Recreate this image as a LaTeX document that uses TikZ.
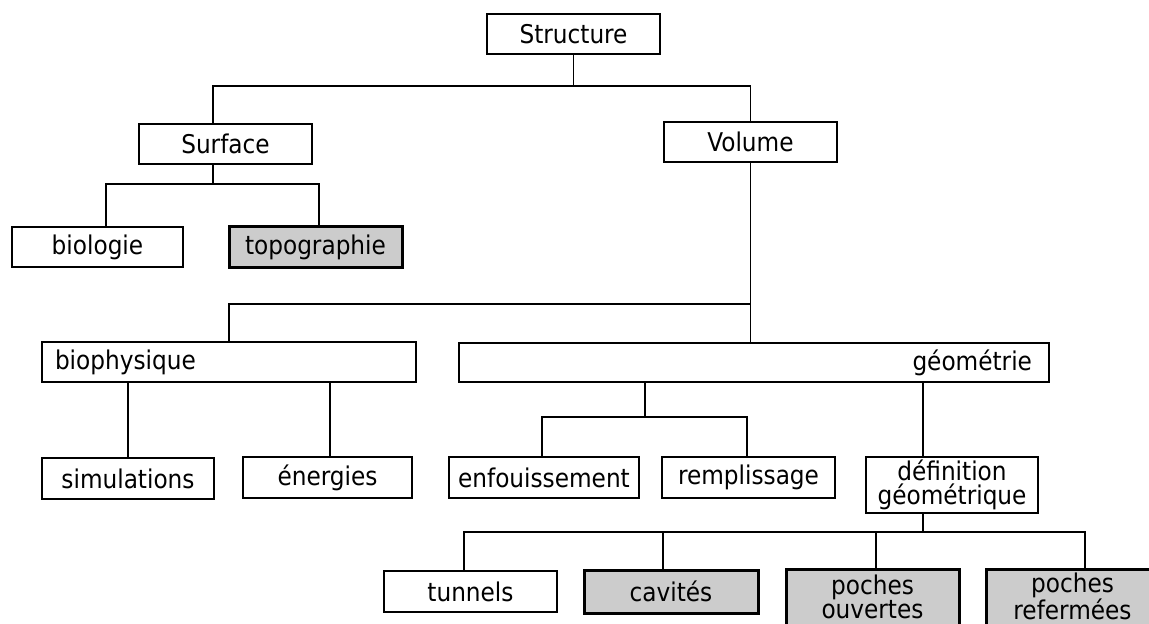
\documentclass[tikz,border=0pt]{standalone}
\usepackage{fontspec}
\setmainfont{DejaVu Sans Condensed}
\usetikzlibrary{calc}
\definecolor{hilite}{HTML}{CCCCCC}
\tikzset{
  box/.style={draw, line width=1.4pt, rectangle, inner sep=0pt, align=center,
    font=\fontsize{25.8}{24}\selectfont},
  keybox/.style={box, line width=3pt, fill=hilite},
  link/.style={line width=1.4pt}
}
\begin{document}
\begin{tikzpicture}[x=1pt,y=1pt]
\useasboundingbox (0,0) rectangle (1149,-624);
\clip (0,0) rectangle (1149,-624);

% top levels
\node[box, minimum width=173, minimum height=40] (structure) at (573.5,-34) {Structure};
\node[box, minimum width=173, minimum height=40] (surface) at (225.5,-144) {Surface};
\node[box, minimum width=173, minimum height=40] (volume) at (750.5,-142) {Volume};

% surface branch
\node[box, minimum width=171, minimum height=40] (biologie) at (97.5,-247) {biologie};
\node[keybox, minimum width=173, minimum height=41] (topo) at (315.5,-247) {topographie};

% volume branch
\node[box, minimum height=40, inner xsep=13pt, text width=348, align=left] (biophys) at (229,-362) {biophysique};
\node[box, minimum height=39, inner xsep=17pt, text width=556, align=right] (geom) at (754,-362.5) {géométrie};

\node[box, minimum width=172, minimum height=41] (simul) at (128,-478.5) {simulations};
\node[box, minimum width=169, minimum height=41] (energ) at (327.5,-477.5) {énergies};
\node[box, minimum width=190, minimum height=41] (enfou) at (544,-477.5) {enfouissement};
\node[box, minimum width=173, minimum height=41] (rempl) at (748.5,-477.5) {remplissage};
\node[box, minimum width=172, minimum height=56] (defgeo) at (952,-485) {définition\\géométrique};

% geometric definition; the last two boxes run past the lower edge
\node[box, minimum width=173, minimum height=41] (tunnels) at (470.5,-591.5) {tunnels};
\node[keybox, minimum width=174, minimum height=43] (cavites) at (671,-591.5) {cavités};
\node[keybox, minimum width=173, minimum height=79] (ouvertes) at (872.5,-608.5) {poches\\ouvertes\\\mbox{}};
\node[keybox, minimum width=173, minimum height=79] (refermees) at (1072.5,-608.5) {poches\\refermées\\\mbox{}};

% bus levels
\coordinate (b1) at (0,-86);
\coordinate (b2) at (0,-184);
\coordinate (b3) at (0,-304);
\coordinate (b4) at (0,-417);
\coordinate (b5) at (0,-532);

% attachment points off the box centres
\coordinate (surf-in) at ($(surface.north)+(-12.5,0)$);
\coordinate (surf-out) at ($(surface.south)+(-12.5,0)$);
\coordinate (bio-in) at ($(biologie.north)+(8.5,0)$);
\coordinate (topo-in) at ($(topo.north)+(3.5,0)$);
\coordinate (energ-in) at ($(energ.north)+(2.5,0)$);
\coordinate (geom-mid) at ($(geom.south)+(-109,0)$);
\coordinate (geom-def) at ($(geom.south)+(169,0)$);
\coordinate (enfou-in) at ($(enfou.north)+(-2,0)$);
\coordinate (rempl-in) at ($(rempl.north)+(-1.5,0)$);
\coordinate (def-in) at ($(defgeo.north)+(-29,0)$);
\coordinate (def-out) at ($(defgeo.south)+(-29,0)$);
\coordinate (tun-in) at ($(tunnels.north)+(-6.5,0)$);
\coordinate (cav-in) at ($(cavites.north)+(-8,0)$);
\coordinate (ouv-in) at ($(ouvertes.north)+(3.5,0)$);
\coordinate (ref-in) at ($(refermees.north)+(12.5,0)$);

% connectors
\draw[link] (structure.south) -- (structure.south |- b1);
\draw[link] (surf-in) |- (volume.north |- b1) -- (volume.north);

\draw[link] (surf-out) -- (surf-out |- b2);
\draw[link] (bio-in) |- (topo-in |- b2) -- (topo-in);

\draw[link] (volume.south) -- (geom.north -| volume.south);
\draw[link] (biophys.north) |- (volume.south |- b3);

\draw[link] (simul.north) -- (simul.north |- biophys.south);
\draw[link] (energ-in) -- (energ-in |- biophys.south);

\draw[link] (geom-mid) -- (geom-mid |- b4);
\draw[link] (enfou-in) |- (rempl-in |- b4) -- (rempl-in);
\draw[link] (geom-def) -- (def-in);

\draw[link] (def-out) -- (def-out |- b5);
\draw[link] (tun-in) |- (ref-in |- b5) -- (ref-in);
\draw[link] (cav-in) -- (cav-in |- b5);
\draw[link] (ouv-in) -- (ouv-in |- b5);
\end{tikzpicture}
\end{document}
